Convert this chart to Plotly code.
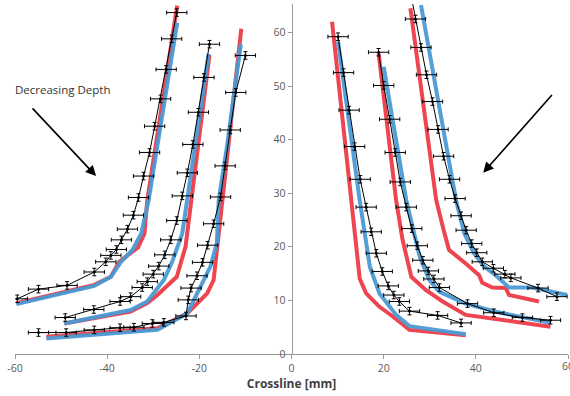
import plotly.graph_objects as go

# ---------------- data ----------------
# Left-side curves (A: outer, B: middle, C: inner)
A_red_x = [-24.8, -31.3, -31.9, -33.3, -37.4, -39.2, -42.8, -59.7]
A_red_y = [65.0, 28.7, 22.5, 19.9, 17.2, 14.4, 12.9, 9.5]
A_blue_x = [-24.8, -31.0, -32.6, -34.5, -37.0, -39.2, -42.8, -59.7]
A_blue_y = [61.8, 28.7, 22.5, 19.4, 17.2, 14.4, 12.7, 9.3]
A_blk_x = [-24.9, -26.0, -27.2, -28.4, -29.7, -30.8, -32.1, -33.2, -34.3, -35.6, -36.9, -38.0, -39.2, -40.3, -42.8, -48.7, -54.9, -59.5]
A_blk_y = [63.7, 58.8, 53.1, 47.6, 42.5, 37.6, 33.2, 29.2, 25.9, 23.3, 21.3, 19.5, 18.4, 17.2, 15.3, 12.8, 12.1, 10.3]

B_red_x = [-17.8, -21.6, -23.0, -24.9, -29.1, -31.3, -34.9, -49.3]
B_red_y = [55.8, 28.7, 20.0, 14.4, 11.0, 9.5, 7.9, 5.7]
B_blue_x = [-18.0, -22.6, -23.7, -25.9, -27.7, -31.3, -34.9, -49.3]
B_blue_y = [56.0, 28.7, 22.5, 17.2, 13.8, 9.8, 8.2, 5.7]
B_blk_x = [-17.8, -19.0, -20.2, -21.4, -22.6, -23.7, -24.9, -26.2, -27.5, -28.8, -30.0, -31.3, -32.4, -34.9, -37.2, -42.9, -49.1]
B_blk_y = [57.8, 51.6, 45.1, 39.1, 33.8, 29.5, 24.9, 21.3, 18.5, 16.4, 14.9, 13.5, 12.4, 10.7, 9.8, 8.3, 6.8]

C_red_x = [-10.9, -13.3, -15.1, -16.9, -18.3, -22.6, -29.1, -53.2]
C_red_y = [60.7, 42.4, 28.7, 13.8, 11.3, 7.6, 4.8, 3.2]
C_blue_x = [-11.0, -14.0, -15.8, -16.2, -17.6, -19.8, -22.6, -29.1, -53.2]
C_blue_y = [57.8, 38.7, 28.7, 20.7, 16.3, 12.3, 7.6, 4.5, 2.9]
C_blk_x = [-10.0, -12.1, -13.3, -14.4, -15.4, -16.9, -18.2, -19.3, -20.5, -21.8, -22.4, -22.9, -27.7, -30.2, -34.2, -37.2, -42.8, -48.9, -54.9]
C_blk_y = [55.7, 48.8, 41.8, 35.1, 29.3, 24.3, 20.3, 17.1, 14.6, 12.3, 10.1, 7.1, 5.9, 5.7, 5.0, 4.9, 4.5, 4.0, 4.0]

# Right-side curves (D: inner, E: middle, F: outer)
D_red_x = [8.8, 13.0, 14.8, 16.2, 19.1, 22.0, 25.6, 37.8]
D_red_y = [62.0, 28.7, 14.1, 11.3, 8.8, 7.0, 4.5, 3.5]
D_blue_x = [10.1, 14.8, 17.0, 19.1, 22.7, 25.6, 37.8]
D_blue_y = [58.3, 28.7, 16.3, 11.3, 7.3, 5.2, 3.7]
D_blk_x = [10.1, 11.3, 12.5, 13.7, 14.9, 16.2, 17.3, 18.4, 19.7, 21.0, 22.2, 23.4, 25.6, 31.7, 36.8]
D_blk_y = [59.2, 52.5, 45.5, 38.7, 32.6, 27.4, 22.8, 18.8, 15.4, 12.7, 11.0, 9.8, 8.0, 7.2, 5.8]

E_red_x = [18.9, 22.7, 24.1, 26.0, 29.2, 32.8, 37.8, 47.9, 56.2]
E_red_y = [56.1, 28.7, 21.3, 14.4, 11.9, 9.8, 7.3, 6.0, 5.1]
E_blue_x = [20.0, 24.9, 27.8, 29.9, 32.1, 37.8, 44.3, 56.2]
E_blue_y = [53.6, 28.7, 18.2, 13.8, 11.6, 9.4, 7.9, 5.8]
E_blk_x = [18.9, 20.0, 21.3, 22.5, 23.6, 24.9, 26.1, 27.3, 28.5, 29.7, 30.9, 32.1, 38.2, 43.9, 50.1, 56.2]
E_blk_y = [56.3, 50.1, 43.8, 37.6, 32.1, 27.4, 23.4, 20.2, 17.5, 15.5, 14.0, 12.4, 9.4, 7.7, 6.8, 6.3]

F_red_x = [25.8, 31.4, 33.2, 34.2, 37.8, 40.7, 41.4, 43.6, 46.5, 47.2, 53.7]
F_red_y = [64.5, 28.7, 22.5, 19.4, 16.9, 14.7, 13.3, 12.4, 12.3, 11.0, 9.8]
F_blue_x = [28.1, 35.7, 37.5, 39.6, 41.8, 44.3, 47.2, 52.2, 59.8]
F_blue_y = [65.1, 28.7, 22.5, 18.8, 16.3, 14.7, 12.4, 12.4, 11.0]
F_blk_x = [25.7, 26.9, 28.1, 29.3, 30.6, 31.8, 33.0, 34.3, 35.5, 36.8, 37.9, 39.1, 40.2, 41.4, 43.8, 46.3, 47.6, 53.5, 57.6]
F_blk_y = [68.0, 62.5, 57.2, 52.1, 47.1, 41.9, 36.9, 32.6, 29.0, 25.8, 23.1, 20.6, 18.9, 17.2, 16.0, 14.9, 14.2, 12.3, 10.7]

ERR_X = 2.2
ERR_Y = 0.7

x_ticks = [-60, -40, -20, 0, 20, 40]
x_edge_label = 60
y_ticks = [0, 10, 20, 30, 40, 50, 60]

RED = "#EE4650"
BLUE = "#4A9AD4"
TICK_FONT = dict(family="Open Sans, sans-serif", size=10.5, color="#595959")

fig = go.Figure()

curves = [
    (A_red_x, A_red_y, A_blue_x, A_blue_y, A_blk_x, A_blk_y),
    (B_red_x, B_red_y, B_blue_x, B_blue_y, B_blk_x, B_blk_y),
    (C_red_x, C_red_y, C_blue_x, C_blue_y, C_blk_x, C_blk_y),
    (D_red_x, D_red_y, D_blue_x, D_blue_y, D_blk_x, D_blk_y),
    (E_red_x, E_red_y, E_blue_x, E_blue_y, E_blk_x, E_blk_y),
    (F_red_x, F_red_y, F_blue_x, F_blue_y, F_blk_x, F_blk_y),
]

for rx, ry, bx, by, kx, ky in curves:
    fig.add_trace(go.Scatter(x=rx, y=ry, mode="lines",
                             line=dict(color=RED, width=4), showlegend=False))
for rx, ry, bx, by, kx, ky in curves:
    fig.add_trace(go.Scatter(x=bx, y=by, mode="lines",
                             line=dict(color=BLUE, width=4), opacity=0.95,
                             showlegend=False))
for rx, ry, bx, by, kx, ky in curves:
    fig.add_trace(go.Scatter(
        x=kx, y=ky, mode="lines+markers",
        line=dict(color="black", width=1),
        marker=dict(color="black", size=3),
        error_x=dict(type="constant", value=ERR_X, color="black", thickness=1, width=2),
        error_y=dict(type="constant", value=ERR_Y, color="black", thickness=1, width=2),
        showlegend=False))

fig.add_annotation(x=-42.4, y=33.2, ax=-56.5, ay=46.1, xref="x", yref="y",
                   axref="x", ayref="y", text="", showarrow=True,
                   arrowhead=2, arrowsize=1.3, arrowwidth=1.6, arrowcolor="black")
fig.add_annotation(x=41.6, y=33.8, ax=56.8, ay=48.6, xref="x", yref="y",
                   axref="x", ayref="y", text="", showarrow=True,
                   arrowhead=2, arrowsize=1.3, arrowwidth=1.6, arrowcolor="black")
fig.add_annotation(x=-49.6, y=49.4, xref="x", yref="y", text="Decreasing Depth",
                   showarrow=False, font=dict(size=11.5, color="#333333"))
# edge tick label (partially cut off at the right border, as in the original)
fig.add_annotation(x=x_edge_label, y=0, xref="x", yref="paper", text=str(x_edge_label),
                   showarrow=False, yanchor="top", xanchor="center", yshift=-3,
                   font=TICK_FONT)

fig.update_layout(
    width=570, height=396,
    margin=dict(l=15, r=2, t=4, b=42, autoexpand=False),
    paper_bgcolor="white", plot_bgcolor="white",
    font=TICK_FONT,
    xaxis=dict(range=[-60, 60], tickvals=x_ticks + [x_edge_label], ticktext=[str(v) for v in x_ticks] + [""],
               showgrid=False, zeroline=False,
               showline=True, linecolor="#9a9a9a", linewidth=1, automargin=False,
               ticks="outside", ticklen=4, tickcolor="#9a9a9a",
               title=dict(text="<b>Crossline [mm]</b>",
                          font=dict(size=12, color="#404040"), standoff=2)),
    yaxis=dict(range=[0, 65.3], tickvals=y_ticks, showgrid=False, zeroline=False,
               showline=True, linecolor="#9a9a9a", linewidth=1, automargin=False,
               ticks="outside", ticklen=4, tickcolor="#9a9a9a",
               anchor="free", position=0.5),
)

fig.write_html("out.html", config={"displayModeBar": False},
               post_script="document.body.style.margin='0px';document.body.style.overflow='hidden';")
